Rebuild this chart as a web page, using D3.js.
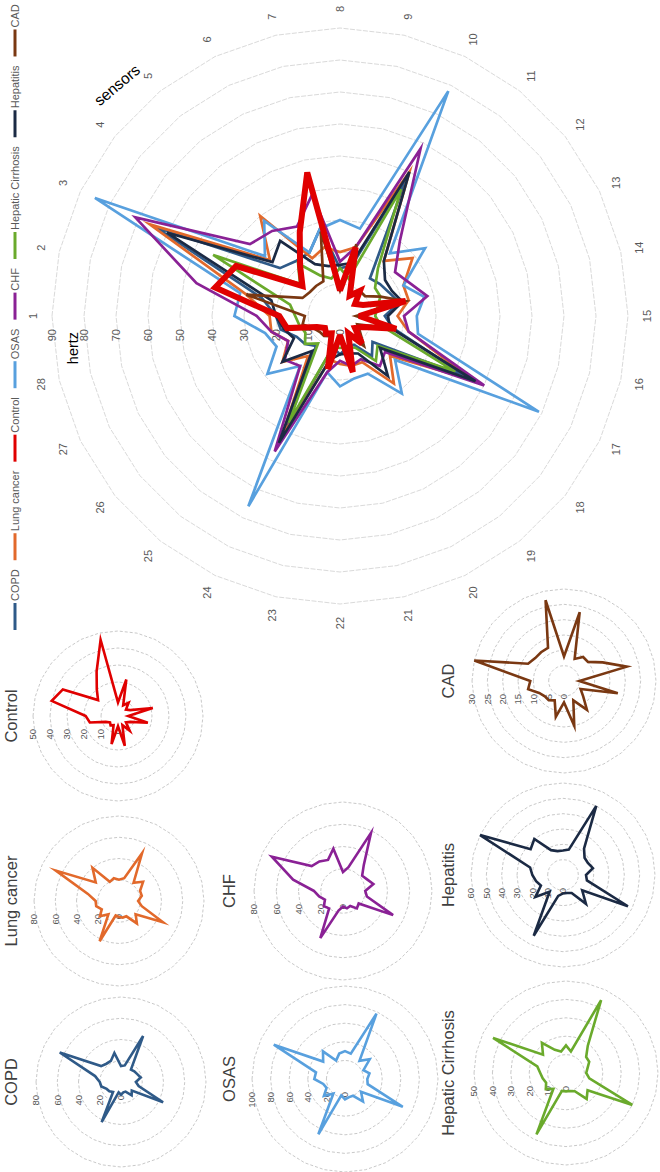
<!DOCTYPE html>
<html>
<head>
<meta charset="utf-8">
<script src="https://cdn.jsdelivr.net/npm/d3@7"></script>
<style>
  body { margin: 0; background: #fff; }
  svg { display: block; }
  text { font-family: "Liberation Sans", Arial, sans-serif; }
</style>
</head>
<body>
<div id="chart"></div>
<script>
// sensors 1..28 (spokes)
var sensors = d3.range(1, 29);

// hertz per sensor
var copd      = [20, 25, 64, 24, 22, 22, 28, 15, 16, 48, 15, 16, 17, 19, 14, 17, 44, 13, 16, 10, 10, 12, 10, 42, 12, 14, 15, 19];
var lungCancer= [22, 30, 66, 28, 40, 20, 22, 20, 22, 50, 22, 29, 22, 22, 18, 22, 46, 20, 27, 16, 16, 15, 14, 42, 16, 23, 18, 22];
var control   = [19, 40, 36, 15, 20, 29, 46,  8, 22,  7, 10,  6,  8, 21,  6, 18,  8,  6, 11,  6, 18,  6, 17,  6,  7,  6,  8, 17];
var osas      = [33, 32, 85, 30, 38, 22, 28, 30, 28, 78, 25, 34, 22, 27, 24, 25, 69, 22, 31, 20, 20, 22, 18, 66, 20, 29, 22, 24];
var chf       = [26, 46, 71, 36, 34, 31, 39, 17, 22, 58, 30, 22, 24, 28, 20, 22, 50, 18, 20, 15, 16, 14, 18, 47, 20, 22, 18, 22];
var cirrhosis = [14, 16, 44, 16, 21, 14, 12, 15, 12, 44, 19, 14, 14, 12, 11, 13, 40, 15, 18, 11, 10, 10, 10, 37, 11, 14, 12, 13];
var hepatitis = [20, 22, 60, 27, 30, 18, 16, 16, 17, 50, 22, 18, 18, 20, 15, 16, 47, 16, 24, 13, 12, 12, 14, 44, 14, 23, 16, 18];
var cad       = [11, 30, 13, 12, 12, 12, 27,  8, 23,  8, 10, 10, 14, 21,  5, 18,  6,  8, 12,  7, 15,  7, 12,  7,  8,  8,  9, 12];

var seriesNames  = ["COPD", "Lung cancer", "Control", "OSAS", "CHF", "Hepatic Cirrhosis", "Hepatitis", "CAD"];
var seriesValues = [copd, lungCancer, control, osas, chf, cirrhosis, hepatitis, cad];
var seriesColors = ["#2f5a88", "#e2692b", "#e00000", "#58a0de", "#8a2195", "#6aaa2c", "#1b2a44", "#7a3812"];

// axis maxima / steps of the small charts
var smallMax  = [80, 80, 50, 100, 80, 50, 60, 30];
var smallStep = [20, 20, 10, 20, 20, 10, 10, 5];

// the figure is laid out landscape and turned a quarter left
var W = 1172, H = 660;

var svg = d3.select("#chart").append("svg")
    .attr("width", H)
    .attr("height", W);

var g = svg.append("g")
    .attr("transform", `translate(0,${W}) rotate(-90)`);

var angle = d3.scaleLinear().domain([0, sensors.length]).range([0, 2 * Math.PI]);

function ringPath(rad) {
    return d3.lineRadial()
        .angle((d, i) => angle(i))
        .radius(rad)
        .curve(d3.curveLinearClosed)(sensors);
}

function drawRadar(parent, opt) {
    var r = d3.scaleLinear().domain([0, opt.max]).range([0, opt.radius]);
    var p = parent.append("g").attr("transform", `translate(${opt.cx},${opt.cy})`);

    var ticks = d3.range(0, opt.max + 0.001, opt.step);

    p.selectAll("path.ring")
      .data(ticks.filter(t => t > 0))
      .join("path")
      .attr("class", "ring")
      .attr("d", t => ringPath(r(t)))
      .attr("fill", "none")
      .attr("stroke", opt.gridColor)
      .attr("stroke-width", 1)
      .attr("stroke-dasharray", opt.dash);

    p.selectAll("text.tick")
      .data(ticks)
      .join("text")
      .attr("class", "tick")
      .attr("x", -13)
      .attr("y", t => -r(t))
      .attr("dy", "0.35em")
      .attr("text-anchor", "end")
      .attr("font-size", opt.tickSize)
      .attr("fill", "#595959")
      .text(t => t);

    var line = d3.lineRadial()
        .angle((d, i) => angle(i))
        .radius(d => r(d))
        .curve(d3.curveLinearClosed);

    p.selectAll("path.series")
      .data(opt.series)
      .join("path")
      .attr("class", "series")
      .attr("d", d => line(d.values))
      .attr("fill", "none")
      .attr("stroke", d => d.color)
      .attr("stroke-width", d => d.width)
      .attr("stroke-linejoin", "miter")
      .attr("stroke-miterlimit", d => d.width > 4 ? 3 : 6);

    return {g: p, r: r};
}

// ---- small multiples ----
var smallPos = [
    {cx: 90,  cy: 121, radius: 85, ty: 17},
    {cx: 271, cy: 119, radius: 85, ty: 17},
    {cx: 456, cy: 118, radius: 85, ty: 17},
    {cx: 93,  cy: 345, radius: 93, ty: 235},
    {cx: 281, cy: 343, radius: 89, ty: 235},
    {cx: 99,  cy: 566, radius: 92, ty: 454},
    {cx: 297, cy: 563, radius: 92, ty: 454},
    {cx: 491, cy: 564, radius: 92, ty: 454}
];

seriesNames.forEach(function(name, i) {
    var pos = smallPos[i];
    drawRadar(g, {
        cx: pos.cx, cy: pos.cy, radius: pos.radius,
        max: smallMax[i], step: smallStep[i],
        gridColor: "#c9c9c9", dash: "3,2", tickSize: 9.5,
        series: [{values: seriesValues[i], color: seriesColors[i], width: 2.6}]
    });
    g.append("text")
      .attr("x", pos.cx)
      .attr("y", pos.ty)
      .attr("text-anchor", "middle")
      .attr("font-size", 16.5)
      .attr("fill", "#404040")
      .text(name);
});

// ---- main chart ----
var mainCx = 856, mainCy = 340, mainR = 288;
var drawOrder = [0, 1, 3, 4, 5, 6, 7, 2];
var main = drawRadar(g, {
    cx: mainCx, cy: mainCy, radius: mainR,
    max: 90, step: 10,
    gridColor: "#dadada", dash: "5,1.5", tickSize: 11,
    series: drawOrder.map(i => ({
        values: seriesValues[i],
        color: seriesColors[i],
        width: i == 2 ? 6 : 2.7
    }))
});

// sensor labels around the rim
main.g.selectAll("text.spoke")
  .data(sensors)
  .join("text")
  .attr("class", "spoke")
  .attr("x", (d, i) => Math.sin(angle(i)) * 307)
  .attr("y", (d, i) => -Math.cos(angle(i)) * 307)
  .attr("dy", "0.35em")
  .attr("text-anchor", "middle")
  .attr("font-size", 11)
  .attr("fill", "#595959")
  .text(d => d);

g.append("text")
  .attr("x", 824)
  .attr("y", 78)
  .attr("text-anchor", "middle")
  .attr("font-size", 14.5)
  .attr("fill", "#000")
  .text("hertz");

g.append("text")
  .attr("transform", "translate(1087,117) rotate(50)")
  .attr("text-anchor", "middle")
  .attr("dy", "0.35em")
  .attr("font-size", 15.5)
  .attr("fill", "#000")
  .text("sensors");

// ---- legend along the top ----
var legend = g.append("g").attr("transform", "translate(0,15)");
var lx = 542;
seriesNames.forEach(function(name, i) {
    legend.append("line")
      .attr("x1", lx).attr("x2", lx + 27)
      .attr("y1", 0).attr("y2", 0)
      .attr("stroke", seriesColors[i])
      .attr("stroke-width", 3);
    var t = legend.append("text")
      .attr("x", lx + 29)
      .attr("dy", "0.35em")
      .attr("font-size", 11)
      .attr("fill", "#595959")
      .text(name);
    lx += 29 + t.node().getComputedTextLength() + 9;
});
</script>
</body>
</html>
